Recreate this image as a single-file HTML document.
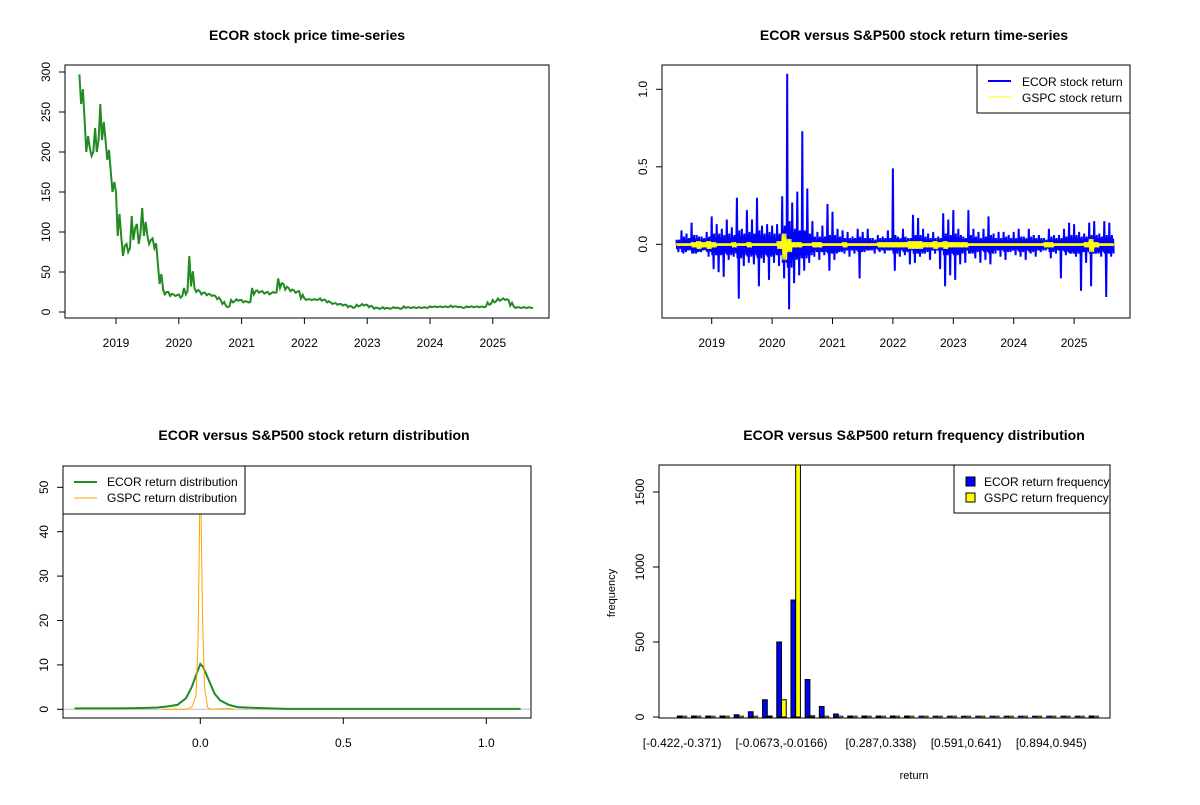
<!DOCTYPE html>
<html><head><meta charset="utf-8"><style>
body{margin:0;background:#fff}
svg{font-family:"Liberation Sans",Arial,sans-serif}
</style></head><body>
<svg id="s" width="1200" height="800" xmlns="http://www.w3.org/2000/svg"></svg>
<script>
const priceVals=[297,240,205,230,260,215,175,
150,95,85,120,110,130,95,92,60,28,25,22,
22,30,70,30,26,24,22,20,15,8,15,16,
15,13,30,27,26,25,25,42,35,30,27,26,
17,16,16,17,15,12,11,10,9,7,9,10,
9,7,5,6,5,6,5,7,6,6,6,6,
7,7,7,7,8,7,6,7,7,7,7,12,
15,17,17,15,7,6,6,6];
const priceLo=[260,200,195,200,215,190,150,
95,70,75,90,85,95,85,80,35,22,20,20,
18,22,32,25,22,21,20,16,10,6,12,14,
12,12,22,24,23,22,24,30,28,26,24,17,
15,15,15,14,12,10,9,8,6,5,7,8,
6,4,4,4,4,5,4,5,5,5,5,5,
6,6,6,6,6,6,5,6,6,6,6,9,
12,14,15,8,5,5,5,5];
const ecorHi=[.03,.09,.07,.14,.06,.05,.08,
.18,.13,.10,.16,.11,.30,.10,.22,.16,.30,.12,.13,
.12,.13,.31,1.10,.27,.34,.73,.36,.15,.08,.12,.26,
.21,.10,.09,.08,.05,.10,.08,.10,.04,.06,.05,.09,
.49,.05,.10,.04,.19,.17,.10,.07,.08,.05,.20,.16,
.22,.10,.05,.22,.10,.08,.10,.18,.07,.08,.08,.06,
.08,.10,.05,.10,.06,.06,.04,.10,.06,.06,.10,.14,
.13,.08,.07,.14,.15,.07,.15,.14];
const ecorLo=[-.05,-.06,-.04,-.06,-.05,-.04,-.08,
-.16,-.18,-.21,-.10,-.08,-.35,-.14,-.12,-.13,-.27,-.12,-.23,
-.12,-.14,-.22,-.42,-.25,-.20,-.17,-.12,-.08,-.10,-.07,-.17,
-.10,-.05,-.06,-.08,-.06,-.22,-.05,-.04,-.06,-.05,-.06,-.04,
-.17,-.08,-.07,-.13,-.12,-.08,-.06,-.10,-.06,-.16,-.27,-.20,
-.23,-.13,-.12,-.06,-.09,-.12,-.10,-.13,-.06,-.08,-.10,-.05,
-.07,-.08,-.10,-.06,-.08,-.05,-.04,-.09,-.06,-.22,-.07,-.06,
-.08,-.30,-.12,-.27,-.06,-.08,-.34,-.08];
const ecorBand=[.03,.05,.04,.06,.05,.04,.05,
.07,.07,.06,.07,.06,.09,.07,.08,.07,.09,.07,.08,
.07,.07,.12,.15,.10,.09,.09,.07,.05,.05,.05,.06,
.06,.05,.04,.04,.04,.05,.04,.04,.03,.04,.04,.04,
.06,.04,.05,.04,.06,.06,.05,.04,.04,.04,.07,.06,
.07,.06,.04,.06,.05,.04,.05,.06,.04,.04,.05,.04,
.04,.05,.04,.05,.04,.04,.03,.05,.04,.04,.05,.06,
.06,.05,.05,.06,.06,.05,.06,.06];
const gspcAmp=[.01,.01,.01,.02,.03,.02,.03,
.02,.01,.01,.01,.02,.01,.01,.02,.01,.01,.01,.01,
.01,.03,.10,.05,.02,.02,.01,.01,.02,.02,.01,.01,
.01,.01,.02,.01,.01,.01,.01,.01,.01,.02,.02,.02,
.02,.02,.02,.03,.03,.03,.02,.02,.03,.02,.03,.02,
.02,.02,.02,.01,.01,.01,.01,.01,.01,.01,.01,.01,
.01,.01,.01,.01,.01,.01,.02,.02,.01,.01,.01,.01,
.01,.01,.02,.05,.02,.01,.01,.01];
const startYear=2018+5/12;
const yearTicks=[2019,2020,2021,2022,2023,2024,2025];
const ecorDX=[-0.44,-0.3,-0.2,-0.15,-0.12,-0.08,-0.05,-0.03,-0.01,0,0.01,0.03,0.05,0.07,0.1,0.13,0.2,0.3,0.5,1.12];
const ecorDY=[0.2,0.2,0.3,0.4,0.6,1,2.5,5,8.5,10.2,9.5,6.5,3.5,2,1,0.5,0.3,0.1,0.1,0.1];
const gspcDX=[-0.13,-0.05,-0.03,-0.015,-0.008,-0.004,0,0.004,0.008,0.015,0.025,0.035,0.1,0.12];
const gspcDY=[0,0,0.5,3,15,35,58,38,20,5,0.5,0,0.2,0];
const binLabels=["[-0.422,-0.371)","[-0.0673,-0.0166)","[0.287,0.338)","[0.591,0.641)","[0.894,0.945)"];
const binLabelIdx=[0,7,14,20,26];
const ecorFreq=[1,3,4,5,15,35,115,500,780,250,70,20,5,4,4,3,1,0,0,0,0,0,0,0,0,0,0,0,0,1];
const gspcFreq=[0,0,0,0,0,0,5,115,1700,8,0,0,0,0,0,0,0,0,0,0,0,0,0,0,0,0,0,0,0,0];

const S=document.getElementById('s');const NS='http://www.w3.org/2000/svg';
function el(t,a,txt){const e=document.createElementNS(NS,t);for(const k in a)e.setAttribute(k,a[k]);if(txt!==undefined)e.textContent=txt;S.appendChild(e);return e;}
function txt(x,y,s,name,o={}){const e=el('text',Object.assign({x:x,y:y,'font-size':12,'text-anchor':'middle',fill:'#000'},o),s);

return e;}
function box(x0,y0,x1,y1,name){const e=el('rect',{x:x0,y:y0,width:x1-x0,height:y1-y0,fill:'none',stroke:'#000'});

}
function line(x1,y1,x2,y2,c,name,w){const e=el('line',{x1,y1,x2,y2,stroke:c||'#000','stroke-width':w||1});

return e;}
function poly(pts,c,w,name){const e=el('polyline',{points:pts.map(p=>p[0].toFixed(1)+','+p[1].toFixed(1)).join(' '),fill:'none',stroke:c,'stroke-width':w,'stroke-linejoin':'miter'});

}
function yTicks(xa,vals,labs,fy,name,y0,y1){line(xa,fy(y0),xa,fy(y1),'#000',name+'-axis');
vals.forEach((v,i)=>{const y=fy(v);line(xa-6,y,xa,y,'#000',name+'-tick');
txt(xa-15,y,labs[i],name+'-label',{transform:`rotate(-90 ${xa-15} ${y})`});});}
function xTicks(ya,vals,labs,fx,name){line(fx(vals[0]),ya,fx(vals[vals.length-1]),ya,'#000',name+'-axis');
vals.forEach((v,i)=>{const x=fx(v);line(x,ya,x,ya+6,'#000',name+'-tick');txt(x,ya+29,labs[i],name+'-label');});}

// Panel 1
{const fx=t=>116+(t-2019)*62.8, fy=v=>312-v*0.8;
txt(307,40,'ECOR stock price time-series','price-title',{'font-weight':'bold','font-size':14});
box(65,65,549,318,'price-plot-area');
const pp=[];priceVals.forEach((v,i)=>{const t=startYear+i/12;pp.push([fx(t),fy(v)]);pp.push([fx(t+1/36),fy(priceLo[i])]);pp.push([fx(t+2/36),fy((v+priceLo[i])/2)]);});
poly(pp,'#228B22',2,'price-line');
xTicks(318,yearTicks,yearTicks.map(String),fx,'price-x');
yTicks(65,[0,50,100,150,200,250,300],['0','50','100','150','200','250','300'],fy,'price-y',0,300);}

// Panel 2
{const fx=t=>711.7+(t-2019)*60.4, fy=v=>244.3-v*155;
txt(914,40,'ECOR versus S&P500 stock return time-series','return-title',{'font-weight':'bold','font-size':14});
box(662,65,1130,318,'return-plot-area');
const pe=[];ecorHi.forEach((h,i)=>{const t=startYear+i/12,b=ecorBand[i];
[h,-b,b*0.8,ecorLo[i],b,-b*0.8,b*0.6,-b].forEach((v,k)=>pe.push([fx(t+k/96),fy(v)]));});
poly(pe,'#0000FF',2,'ecor-return-line');
const pg=[];gspcAmp.forEach((a,i)=>{for(let k=0;k<8;k++){const t=startYear+i/12+k/96;pg.push([fx(t),fy(k%2?-a:a*0.7)]);}});
poly(pg,'#FFFF00',1,'gspc-return-line');
xTicks(318,yearTicks,yearTicks.map(String),fx,'return-x');
yTicks(662,[0,0.5,1],['0.0','0.5','1.0'],fy,'return-y',0,1);
const lg=el('rect',{x:977,y:65,width:153,height:48,fill:'#fff',stroke:'#000'});


line(988,81,1011,81,'#0000FF','legend-ecor-swatch',2);line(988,97,1011,97,'#FFFF00','legend-gspc-swatch',1);
txt(1022,86,'ECOR stock return','legend-ecor-label',{'text-anchor':'start'});
txt(1022,102,'GSPC stock return','legend-gspc-label',{'text-anchor':'start'});}

// Panel 3
{const fx=v=>200.3+v*286, fy=v=>709.3-v*4.44;
txt(314,440,'ECOR versus S&P500 stock return distribution','density-title',{'font-weight':'bold','font-size':14});
const cp=el('clipPath',{id:'c3'});const cr=document.createElementNS(NS,'rect');
cr.setAttribute('x',63);cr.setAttribute('y',466);cr.setAttribute('width',468);cr.setAttribute('height',252);cp.appendChild(cr);
line(63,709.3,531,709.3,'#bebebe','density-zero-line');
poly(ecorDX.map((x,i)=>[fx(x),fy(ecorDY[i])]),'#228B22',2,'ecor-density-line');
const g=el('g',{'clip-path':'url(#c3)'});
const pl=el('polyline',{points:gspcDX.map((x,i)=>fx(x).toFixed(1)+','+fy(gspcDY[i]).toFixed(1)).join(' '),fill:'none',stroke:'#FFA500','stroke-width':1});


g.appendChild(pl);
box(63,466,531,718,'density-plot-area');
xTicks(718,[0,0.5,1],['0.0','0.5','1.0'],fx,'density-x');
yTicks(63,[0,10,20,30,40,50],['0','10','20','30','40','50'],fy,'density-y',0,50);
const lg=el('rect',{x:63,y:466,width:182,height:48,fill:'#fff',stroke:'#000'});


line(74,482,97,482,'#228B22','legend-ecor-density-swatch',2);line(74,498,97,498,'#FFA500','legend-gspc-density-swatch',1);
txt(107,486,'ECOR return distribution','legend-ecor-density-label',{'text-anchor':'start'});
txt(107,502,'GSPC return distribution','legend-gspc-density-label',{'text-anchor':'start'});}

// Panel 4
{const fy=v=>717-v*0.15, bw=4.73, gx=i=>675+i*14.2;
txt(914,440,'ECOR versus S&P500 return frequency distribution','hist-title',{'font-weight':'bold','font-size':14});
const cp=el('clipPath',{id:'c4'});const cr=document.createElementNS(NS,'rect');cr.setAttribute('x',659);cr.setAttribute('y',465);cr.setAttribute('width',451);cr.setAttribute('height',253);cp.appendChild(cr);
const g=el('g',{'clip-path':'url(#c4)'});
function bar(x,v,fill,name){const h=Math.max(1,717-fy(v));const r=document.createElementNS(NS,'rect');
r.setAttribute('x',x);r.setAttribute('y',717-h);r.setAttribute('width',bw);r.setAttribute('height',h);r.setAttribute('fill',fill);r.setAttribute('stroke','#000');r.setAttribute('stroke-width',v>0?1:0.6);

g.appendChild(r);}
ecorFreq.forEach((v,i)=>{bar(gx(i)+bw/2,v,'#0000FF','ecor-freq-bar');bar(gx(i)+bw*1.5,gspcFreq[i],'#FFFF00','gspc-freq-bar');});
box(659,465,1110,718,'hist-plot-area');
binLabelIdx.forEach((b,k)=>txt(gx(b)+bw*1.5,747,binLabels[k],'hist-bin-label'));
yTicks(659,[0,500,1000,1500],['0','500','1000','1500'],fy,'hist-y',0,1500);
txt(914,779,'return','hist-x-title',{'font-size':11});
txt(615,593,'frequency','hist-y-title',{'font-size':11,transform:'rotate(-90 615 593)'});
const lg=el('rect',{x:954,y:465,width:156,height:48,fill:'#fff',stroke:'#000'});


const s1=el('rect',{x:966,y:477,width:9,height:9,fill:'#0000FF',stroke:'#000'});


const s2=el('rect',{x:966,y:493,width:9,height:9,fill:'#FFFF00',stroke:'#000'});


txt(984,486,'ECOR return frequency','legend-ecor-freq-label',{'text-anchor':'start'});
txt(984,502,'GSPC return frequency','legend-gspc-freq-label',{'text-anchor':'start'});}
</script>
</body></html>
